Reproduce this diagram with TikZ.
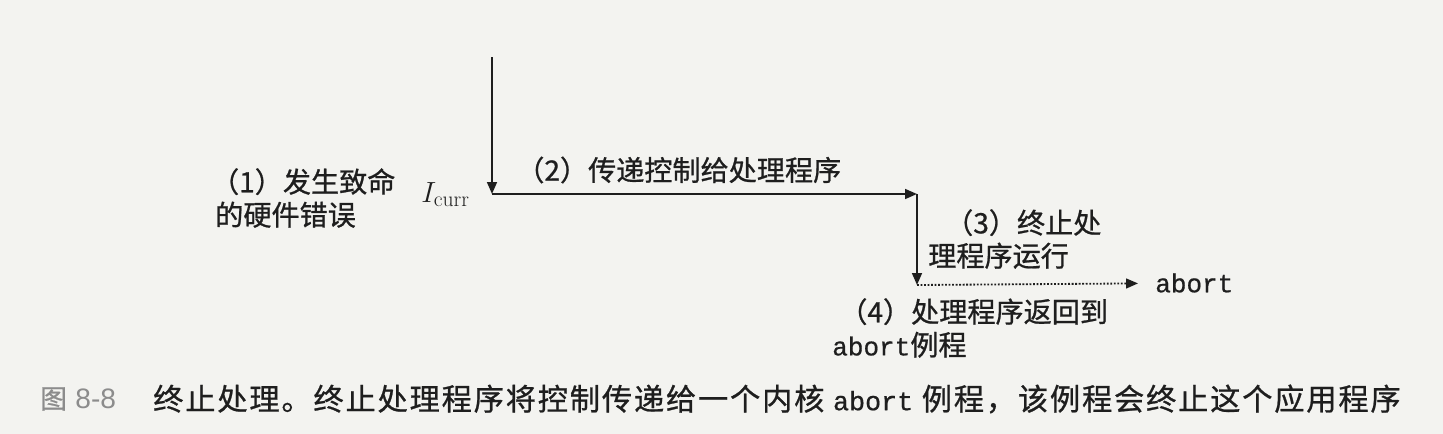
\documentclass[tikz,border=0pt]{standalone}
\usepackage{fontspec}
\setmonofont[FakeBold=0.6]{Liberation Mono}
\newfontfamily\cjk[FakeBold=0.8]{Noto Sans CJK SC}
\newfontfamily\cjkcap[FakeBold=0.8,LetterSpace=6]{Noto Sans CJK SC}
\newfontfamily\capnum{Liberation Sans}
\usetikzlibrary{arrows.meta,positioning}
\definecolor{PaperGray}{HTML}{F3F3F0}
\definecolor{InkGray}{HTML}{1E1E1E}
\definecolor{CapGray}{HTML}{8C8C8C}
\tikzset{
  flow/.style={draw=InkGray, line width=1.4pt, -{Triangle[length=8.5pt,width=7pt]}},
  backflow/.style={draw=InkGray, line width=1.3pt, dash pattern=on 1.3pt off 1.2pt,
    -{Triangle[length=8.5pt,width=7pt]}},
  steplabel/.style={inner sep=0pt, text=InkGray, align=left,
    font=\cjk\fontsize{20}{23.5}\selectfont},
  captext/.style={inner sep=0pt, text=InkGray, font=\cjkcap\fontsize{21.5}{24}\selectfont}
}
\begin{document}
\begin{tikzpicture}[x=0.025cm,y=-0.025cm]
  \fill[PaperGray] (0,0) rectangle (1443,434);
  \useasboundingbox (0,0) rectangle (1443,434);
  \coordinate (fault) at (492,57);
  \coordinate (turn1) at (492,194);
  \coordinate (turn2) at (917,194);
  \coordinate (turn3) at (917,285);
  \node[inner sep=0pt, anchor=base west, text=InkGray,
    font=\fontsize{22}{24}\selectfont] (icurr) at (421,202) {$I_{\mathrm{curr}}$};
  \node[steplabel, anchor=north west] (fatal) at (215,168)
    {\hspace*{-3pt}（1）发生致命\\的硬件错误};
  \node[steplabel, anchor=west] (pass) at (516,170) {（2）传递控制给处理程序};
  \node[steplabel, anchor=north west] (finish) at (928,209)
    {\hspace*{12pt}（3）终止处\\理程序运行};
  \node[steplabel, anchor=north west] (giveback) at (832,298)
    {\hspace*{5pt}（4）处理程序返回到\\{\ttfamily\fontsize{18.5}{22}\selectfont abort}例程};
  \node[inner sep=0pt, inner xsep=0.425cm, anchor=west, text=InkGray,
    font=\ttfamily\fontsize{18.5}{22}\selectfont] (abortcall) at (1138,283) {abort};
  \draw[flow] (fault) -- (turn1);
  \draw[flow] (turn1) -- (turn2);
  \draw[flow] (turn2) -- (turn3);
  \draw[backflow] (turn3) -- (abortcall);
  \node[inner sep=0pt, anchor=west, text=CapGray,
    font=\cjk\fontsize{19}{22}\selectfont] (fignum) at (40,399)
    {图\hspace{6pt}{\capnum\fontsize{20}{22}\selectfont 8-8}};
  \node[captext, anchor=west] (caption) at (153,399)
    {终止处理。终止处理程序将控制传递给一个内核 {\ttfamily\fontsize{19}{22}\selectfont abort} 例程，该例程会终止这个应用程序};
\end{tikzpicture}
\end{document}
